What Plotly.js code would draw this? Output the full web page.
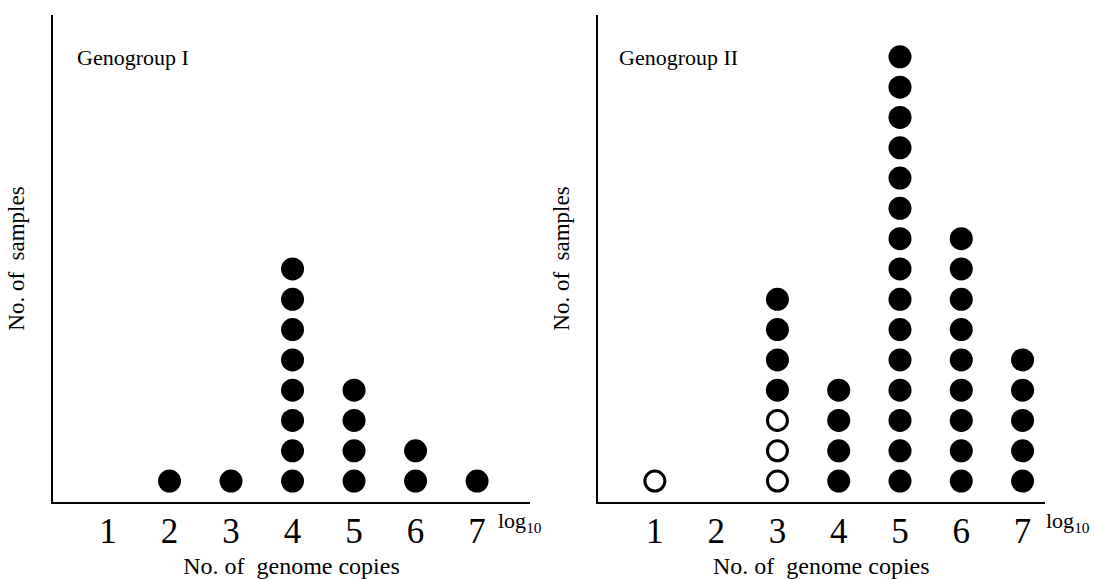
<!DOCTYPE html>
<html><head><meta charset="utf-8">
<script src="https://cdn.plot.ly/plotly-3.0.1.min.js"></script>
<style>html,body{margin:0;padding:0;background:#fff}</style>
</head><body><div id="chart" style="width:1095px;height:579px"></div>
<script>
const logCopies = [1, 2, 3, 4, 5, 6, 7];
const tickLabels = ['1', '2', '3', '4', '5', '6', '7'];
const g1Filled = [0, 1, 1, 8, 4, 2, 1];
const g2Open = [1, 0, 3, 0, 0, 0, 0];
const g2Filled = [0, 0, 4, 4, 15, 9, 5];

function stack(base, counts) {
  const xs = [], ys = [];
  counts.forEach((c, i) => {
    for (let k = 1; k <= c; k++) { xs.push(logCopies[i]); ys.push((base ? base[i] : 0) + k); }
  });
  return {xs, ys};
}
const a = stack(null, g1Filled);
const bo = stack(null, g2Open);
const bf = stack(g2Open, g2Filled);

const FONT = '"Liberation Serif", "DejaVu Serif", serif';
const filled = {color: '#000', size: 23, line: {width: 0}};
const open = {color: '#fff', size: 20, line: {color: '#000', width: 3}};

const traces = [
  {x: a.xs, y: a.ys, xaxis: 'x', yaxis: 'y', mode: 'markers', type: 'scatter', marker: filled, name: 'GI', showlegend: false},
  {x: bo.xs, y: bo.ys, xaxis: 'x2', yaxis: 'y2', mode: 'markers', type: 'scatter', marker: open, name: 'GII open', showlegend: false},
  {x: bf.xs, y: bf.ys, xaxis: 'x2', yaxis: 'y2', mode: 'markers', type: 'scatter', marker: filled, name: 'GII', showlegend: false}
];

const xCommon = {
  tickvals: logCopies, ticktext: tickLabels, showgrid: false, zeroline: false,
  showline: true, linecolor: '#000', linewidth: 2, ticks: '', ticklabelstandoff: -3,
  tickfont: {family: FONT, size: 35, color: '#000'}, fixedrange: true
};
const yCommon = {
  range: [0.31, 16.38], showgrid: false, zeroline: false, showticklabels: false,
  showline: true, linecolor: '#000', linewidth: 2, ticks: '', fixedrange: true
};
const xtitle = {text: 'No. of  genome copies', font: {family: FONT, size: 24, color: '#000'}, standoff: 7};
const ytitle = {text: 'No. of  samples', font: {family: FONT, size: 23, color: '#000'}, standoff: 20};

const layout = {
  width: 1095, height: 579, paper_bgcolor: '#fff', plot_bgcolor: '#fff',
  margin: {l: 0, r: 0, t: 0, b: 0}, showlegend: false,
  font: {family: FONT, color: '#000', size: 18},
  xaxis: Object.assign({}, xCommon, {domain: [0.0484, 0.484], range: [0.106, 7.86], anchor: 'y', title: xtitle}),
  yaxis: Object.assign({}, yCommon, {domain: [0.133, 0.974], anchor: 'x', title: ytitle}),
  xaxis2: Object.assign({}, xCommon, {domain: [0.546, 0.954], range: [0.07, 7.36], anchor: 'y2', title: xtitle}),
  yaxis2: Object.assign({}, yCommon, {domain: [0.133, 0.974], anchor: 'x2', title: ytitle}),
  annotations: [
    {text: 'Genogroup I', xref: 'paper', yref: 'paper', x: 75/1095, y: 1 - 57/579, xanchor: 'left', yanchor: 'middle', showarrow: false, font: {family: FONT, size: 22, color: '#000'}},
    {text: 'Genogroup II', xref: 'paper', yref: 'paper', x: 617/1095, y: 1 - 57/579, xanchor: 'left', yanchor: 'middle', showarrow: false, font: {family: FONT, size: 22, color: '#000'}},
    {text: 'log<sub>10</sub>', xref: 'paper', yref: 'paper', x: 496/1095, y: 1 - 522/579, xanchor: 'left', yanchor: 'middle', showarrow: false, font: {family: FONT, size: 22, color: '#000'}},
    {text: 'log<sub>10</sub>', xref: 'paper', yref: 'paper', x: 1044/1095, y: 1 - 522/579, xanchor: 'left', yanchor: 'middle', showarrow: false, font: {family: FONT, size: 22, color: '#000'}}
  ]
};
Plotly.newPlot('chart', traces, layout, {displayModeBar: false, staticPlot: true});
</script></body></html>
